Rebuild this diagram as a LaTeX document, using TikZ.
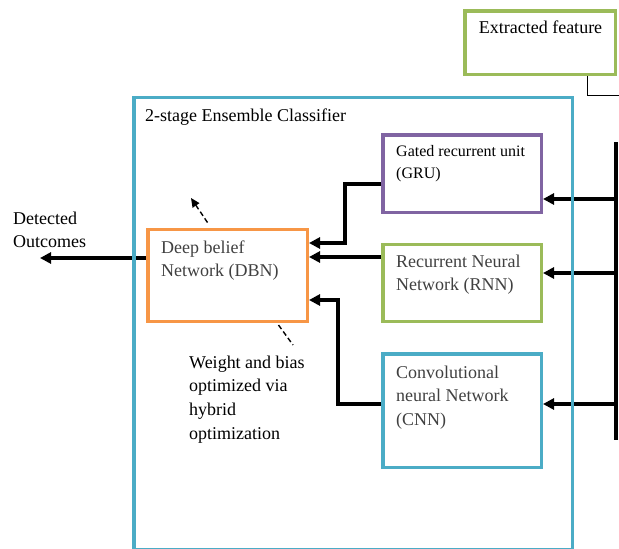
\documentclass[tikz,border=0pt]{standalone}
\usepackage{fontspec}
\setmainfont{Liberation Serif}
\usetikzlibrary{arrows.meta}
\definecolor{boxgreen}{HTML}{9BBB59}
\definecolor{boxcyan}{HTML}{4BACC6}
\definecolor{boxpurple}{HTML}{8064A2}
\definecolor{boxorange}{HTML}{F79646}
\definecolor{softblack}{HTML}{404040}

\begin{document}
\begin{tikzpicture}[x=1pt,y=-1pt,
  block/.style={draw, line width=3.5pt, inner sep=0pt, minimum width=158.5pt},
  lbl/.style={anchor=base west, inner sep=0pt, font=\fontsize{18}{23.7}\selectfont},
  flow/.style={line width=3.6pt, -{Triangle[length=11pt,width=11pt]}},
  hint/.style={line width=1.4pt, dash pattern=on 5pt off 3pt},
]
\useasboundingbox (0,0) rectangle (619,549);

% blocks
\node[block, draw=boxgreen, minimum width=150.5pt, minimum height=63.5pt] (ext) at (540,42.5) {};
\node[block, draw=boxpurple, minimum height=77.5pt] (gru) at (462,173.5) {};
\node[block, draw=boxgreen, minimum height=77pt] (rnn) at (462,282.75) {};
\node[block, draw=boxcyan, minimum height=113.5pt] (cnn) at (462,410.5) {};
\node[block, draw=boxorange, minimum width=159.5pt, minimum height=92pt] (dbn) at (227.5,275.25) {};

% texts
\node[lbl, anchor=base] (extT) at (540.5,33) {Extracted feature};
\node[lbl] (ensT) at (145,121) {2-stage Ensemble Classifier};
\node[lbl, font=\fontsize{16}{22}\selectfont] (gruT) at (396,156)
  {\vtop{\hbox{Gated recurrent unit}\hbox{(GRU)}}};
\node[lbl, text=softblack] (rnnT) at (396,267)
  {\vtop{\hbox{Recurrent Neural}\hbox{Network (RNN)}}};
\node[lbl, text=softblack] (cnnT) at (396,378)
  {\vtop{\hbox{Convolutional}\hbox{neural Network}\hbox{(CNN)}}};
\node[lbl, text=softblack] (dbnT) at (161,253)
  {\vtop{\hbox{Deep belief}\hbox{Network (DBN)}}};
\node[lbl] (outT) at (13,224) {\vtop{\hbox{Detected}\hbox{Outcomes}}};
\node[lbl] (optT) at (189,368)
  {\vtop{\hbox{Weight and bias}\hbox{optimized via}\hbox{hybrid}\hbox{optimization}}};

% feature bus
\coordinate (busTop) at (616,142);
\coordinate (busBot) at (616,440);
\draw[line width=4pt] (busTop) -- (busBot);
\coordinate (feedR) at (622,95.5);
\draw[line width=1pt] ([xshift=47pt]ext.south) |- (feedR);

\coordinate (tapG) at (616,199);
\coordinate (tapR) at (616,273);
\coordinate (tapC) at (616,404);
\draw[flow] (tapG) -- (tapG -| gru.east);
\draw[flow] (tapR) -- (tapR -| rnn.east);
\draw[flow] (tapC) -- (tapC -| cnn.east);

% first stage into DBN
\coordinate (gOut) at (0,184);
\coordinate (gBend) at (345,243);
\draw[flow] (gru.west |- gOut) -| (gBend) -- (dbn.east |- gBend);
\coordinate (rLev) at (0,257);
\draw[flow] (rnn.west |- rLev) -- (dbn.east |- rLev);
\coordinate (cOut) at (0,404);
\coordinate (cBend) at (338,300);
\draw[flow] (cnn.west |- cOut) -| (cBend) -- (dbn.east |- cBend);

% result
\coordinate (result) at (40,258);
\draw[flow] (dbn.west |- result) -- (result);

% optimisation hints
\coordinate (upTip) at (191,198);
\draw[hint, -{Triangle[length=9pt,width=8pt]}] ([shift={(-20,-5)}]dbn.north) -- (upTip);
\coordinate (lowEnd) at (293,345);
\draw[hint] ([shift={(51,2)}]dbn.south) -- (lowEnd);

% ensemble frame
\node[block, draw=boxcyan, minimum width=438.5pt, minimum height=452.9pt] (ens) at (353,323.7) {};
\end{tikzpicture}
\end{document}
